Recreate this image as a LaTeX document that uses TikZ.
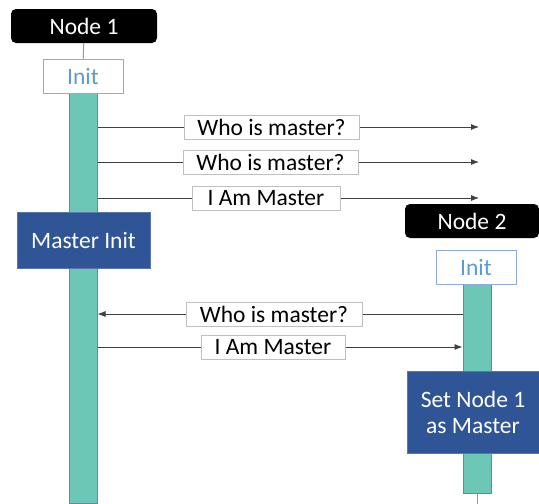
\documentclass[tikz,border=0pt]{standalone}
\usepackage{fontspec}
\setmainfont{Carlito}
\usetikzlibrary{arrows.meta}
\definecolor{tealfill}{HTML}{6CC7B6}
\definecolor{tealedge}{HTML}{6B86A0}
\definecolor{dblue}{HTML}{2F5597}
\definecolor{initblue}{HTML}{5B9BD5}
\definecolor{initedge}{HTML}{8FAADC}
\definecolor{lblgray}{HTML}{BFBFBF}
\tikzset{
  txt/.style={font=\fontsize{23.5}{26}\selectfont},
  header/.style={txt, fill=black, rounded corners=5pt, text=white, minimum height=34pt, inner sep=0pt},
  initbox/.style={txt, draw=initedge, fill=white, text=initblue, minimum width=80pt, minimum height=34pt, line width=0.9pt, inner sep=0pt},
  lifebar/.style={draw=tealedge, fill=tealfill, line width=1pt, minimum width=28pt, inner sep=0pt},
  actbox/.style={txt, fill=dblue, draw=dblue!80!white, text=white, align=center, inner sep=0pt},
  msglabel/.style={txt, draw=lblgray, fill=white, inner sep=0pt, minimum height=24pt, line width=0.8pt},
  msg/.style={draw=black!75, line width=0.8pt, -{Latex[length=8pt,width=6pt]}},
  life/.style={draw=gray!80, line width=1pt}
}
\begin{document}
\begin{tikzpicture}[x=1pt,y=-1pt]
\useasboundingbox (0,0) rectangle (539,504);
% lifelines bars
\node[lifebar, minimum height=410pt] (bar1) at (83,298) {};
\node[lifebar, minimum height=209pt] (bar2) at (477,388.5) {};
% headers and init boxes
\node[header, minimum width=146pt] (header1) at (84,26) {Node 1};
\node[initbox] (init1) at (83,76) {Init};
\draw[life] (header1) -- (init1);
\node[header, minimum width=134pt] (header2) at (472,221) {Node 2};
\node[initbox] (init2) at (476,267) {Init};
\draw[life] (init2.north -| bar2.center) -- (init2.north -| bar2.center |- header2.south);
\coordinate (bottom2) at (477,504);
\draw[life] (bar2.south) -- (bottom2);
% activation boxes
\node[actbox, minimum width=133pt, minimum height=56pt] (minit) at (83.5,240) {Master Init};
\node[actbox, minimum width=132pt, minimum height=82pt] (setm) at (473,412) {Set Node 1\\as Master};
% message end points
\coordinate (e1) at (479,127);
\coordinate (e2) at (479,162);
\coordinate (e3) at (479,198);
% messages
\draw[msg] (bar1.east |- e1) -- (e1);
\draw[msg] (bar1.east |- e2) -- (e2);
\draw[msg] (bar1.east |- e3) -- (e3);
\coordinate (m4) at (0,314);
\coordinate (m5) at (0,347);
\draw[msg] (bar2.west |- m4) -- (bar1.east |- m4);
\draw[msg] (bar1.east |- m5) -- (bar2.west |- m5);
% labels
\node[msglabel, minimum width=175pt] (l1) at (271.5,127) {Who is master?};
\node[msglabel, minimum width=175pt] (l2) at (270.5,162) {Who is master?};
\node[msglabel, minimum width=148pt] (l3) at (266,198) {I Am Master};
\node[msglabel, minimum width=176pt] (l4) at (274,314) {Who is master?};
\node[msglabel, minimum width=144pt] (l5) at (273,347) {I Am Master};
\end{tikzpicture}
\end{document}
